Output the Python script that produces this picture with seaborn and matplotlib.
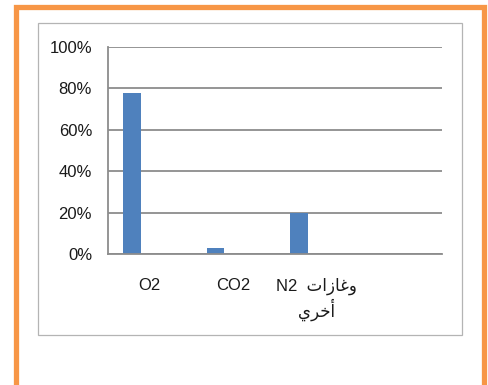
import numpy as np
import pandas as pd
import matplotlib
matplotlib.use("Agg")
import matplotlib.pyplot as plt
from matplotlib.patches import Rectangle
from matplotlib.ticker import PercentFormatter
import seaborn as sns

# gases and their share
categories = ["O2", "CO2", "N2+", "empty"]
values = [0.78, 0.03, 0.20, np.nan]
# Arabic written in presentation forms, visual order (matplotlib does no shaping)
# "N2 وغازات" / "أخري"
tick_labels = ["O2", "CO2",
               "N2  \uFE95\uFE8D\uFEAF\uFE8E\uFECF\uFEED\n\uFEF1\uFEAE\uFEA7\uFE83",
               ""]
y_ticks = [0, 0.2, 0.4, 0.6, 0.8, 1.0]
series_levels = ["s1", "s2", "s3"]

df = pd.DataFrame({"gas": categories, "share": values, "series": "s1"})

sns.set_style("white")
plt.rcParams["font.family"] = ["Liberation Sans", "DejaVu Sans"]

fig = plt.figure(figsize=(4.89, 3.85), dpi=100)

# orange frame and grey chart box
fig.patches.append(Rectangle((16.5 / 489, -0.05), 468 / 489, 1 - 6.5 / 385 + 0.05,
                             transform=fig.transFigure, fill=False,
                             edgecolor="#F79646", linewidth=3.8))
fig.patches.append(Rectangle((38 / 489, 1 - 335 / 385), 424 / 489, 312 / 385,
                             transform=fig.transFigure, fill=False,
                             edgecolor="#b4b4b4", linewidth=0.9))

ax = fig.add_axes([108 / 489, 131 / 385, 334 / 489, 207 / 385])
sns.barplot(data=df, x="gas", y="share", hue="series", hue_order=series_levels,
            order=categories, width=0.63, dodge=True, saturation=1,
            palette=["#4F81BD"] * 3, linewidth=0, legend=False, ax=ax)

ax.set_ylim(0, 1)
ax.set_xlim(-0.5, len(categories) - 0.5)
ax.set_yticks(y_ticks)
ax.yaxis.set_major_formatter(PercentFormatter(1, decimals=0))
ax.grid(axis="y", color="#8c8c8c", linewidth=1.3)
ax.set_axisbelow(True)
for side in ["top", "right"]:
    ax.spines[side].set_visible(False)
for side in ["left", "bottom"]:
    ax.spines[side].set_color("#8c8c8c")
    ax.spines[side].set_linewidth(1.3)

ax.set_xticks(range(len(categories)))
ax.set_xticklabels(tick_labels)
ax.set_xticks(np.arange(-0.5, len(categories)), minor=True)
ax.tick_params(axis="x", which="major", length=0, pad=17, labelsize=12,
               labelcolor="#1a1a1a")
ax.tick_params(axis="x", which="minor", length=5, width=1.3, color="#8c8c8c",
               direction="out")
ax.tick_params(axis="y", length=4.5, width=1.3, color="#8c8c8c", labelsize=12,
               labelcolor="#1a1a1a", pad=7)
ax.set_xlabel("")
ax.set_ylabel("")

fig.savefig("out.png", dpi=100)
